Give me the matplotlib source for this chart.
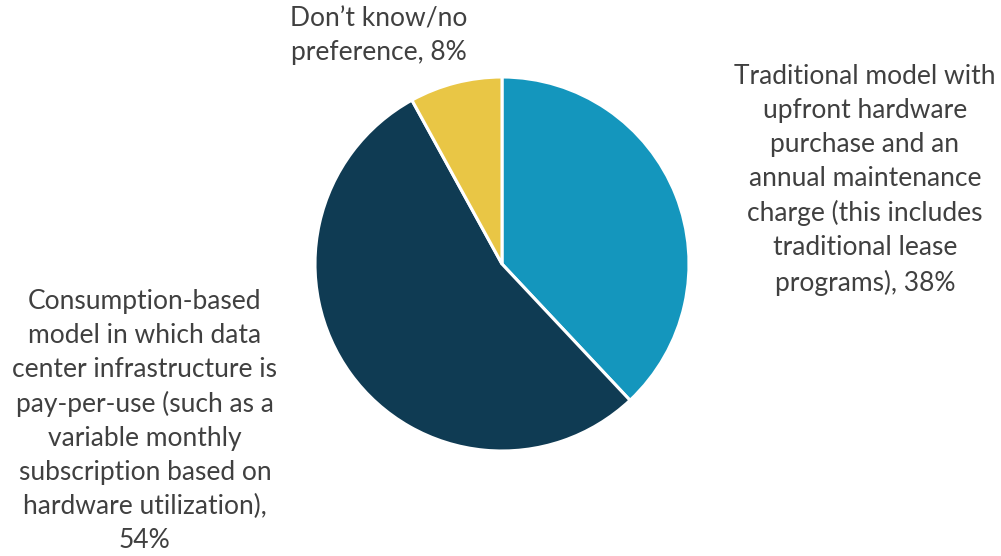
import matplotlib.pyplot as plt

categories = [
    "Traditional model with\nupfront hardware\npurchase and an\nannual maintenance\ncharge (this includes\ntraditional lease\nprograms)",
    "Consumption-based\nmodel in which data\ncenter infrastructure is\npay-per-use (such as a\nvariable monthly\nsubscription based on\nhardware utilization),\n",
    "Don\u2019t know/no\npreference",
]
values = [38, 54, 8]
colors = ["#1496BD", "#0F3B53", "#E9C645"]

# label anchor points (data coords, pie radius = 1)
label_pos = [(1.94, 0.45), (-1.91, -0.84), (-0.66, 1.22)]

W, H = 1001, 556
fig = plt.figure(figsize=(W / 100, H / 100), dpi=100)
cx, cy, r = 502, 264, 187
ax = fig.add_axes([(cx - r) / W, (H - cy - r) / H, 2 * r / W, 2 * r / H])

ax.pie(values, colors=colors, startangle=90, counterclock=False, radius=1,
       wedgeprops=dict(edgecolor="white", linewidth=2.2))
ax.set_xlim(-1, 1)
ax.set_ylim(-1, 1)
ax.set_aspect("equal")
ax.axis("off")

for cat, val, (x, y) in zip(categories, values, label_pos):
    sep = "" if cat.endswith("\n") else ", "
    ax.text(x, y, f"{cat}{sep}{val}%", ha="center", va="center",
            fontsize=19, family="Lato", color="#404040",
            linespacing=1.45, clip_on=False)

fig.savefig("out.png", dpi=100)
